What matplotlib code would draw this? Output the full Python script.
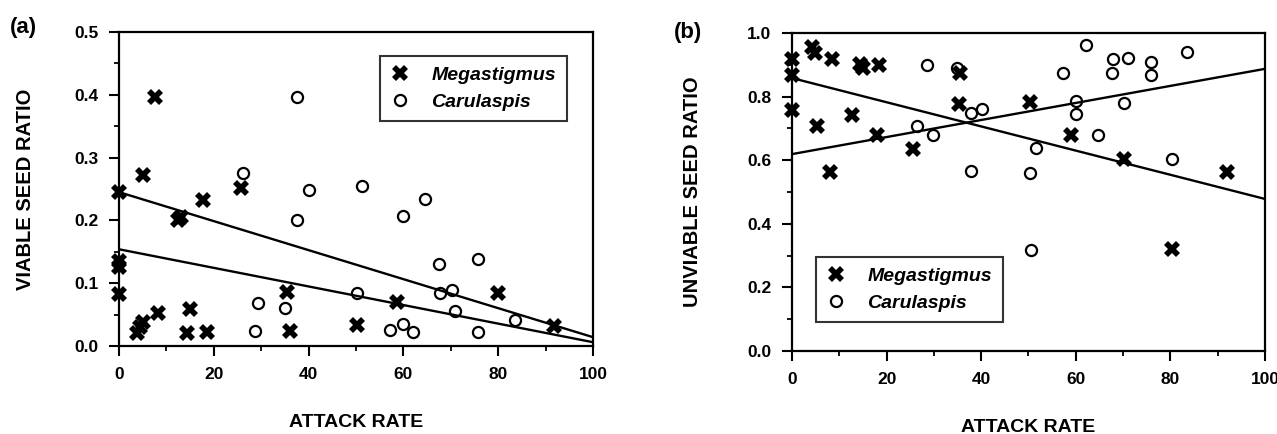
import matplotlib
matplotlib.use("Agg")
import matplotlib.pyplot as plt
from matplotlib.ticker import MultipleLocator, FormatStrFormatter

# (a) viable seed ratio vs attack rate
mega_a_x = [0, 0, 0, 0, 3.8, 4.4, 5, 8.3, 7.6, 5, 12.5, 13, 15, 14.3, 17.7, 18.5,
            25.7, 35.4, 36, 50.2, 58.6, 80, 91.8]
mega_a_y = [0.245, 0.135, 0.125, 0.083, 0.021, 0.03, 0.038, 0.052, 0.397, 0.272,
            0.2, 0.205, 0.059, 0.02, 0.232, 0.022, 0.251, 0.086, 0.024, 0.033,
            0.07, 0.085, 0.032]
caru_a_x = [37.5, 26.2, 40, 51.2, 64.6, 60, 37.5, 29.4, 35, 28.7, 67.4, 75.7, 67.7,
            70.3, 70.9, 50.2, 57.2, 60, 62, 75.7, 83.5]
caru_a_y = [0.397, 0.275, 0.248, 0.255, 0.234, 0.207, 0.2, 0.068, 0.06, 0.024, 0.13,
            0.138, 0.085, 0.089, 0.056, 0.085, 0.025, 0.035, 0.023, 0.023, 0.041]
# fitted lines (value at x=0, value at x=100)
fit_a = [(0.245, 0.014), (0.154, 0.006)]

# (b) unviable seed ratio vs attack rate
mega_b_x = [0, 0, 0, 4.2, 4.9, 8.5, 5.3, 8, 12.7, 14.4, 15, 18.4, 18, 25.6, 35.5,
            35.3, 50.3, 59, 70.2, 92, 80.3]
mega_b_y = [0.918, 0.868, 0.758, 0.956, 0.937, 0.918, 0.708, 0.563, 0.742, 0.903,
            0.89, 0.9, 0.679, 0.635, 0.874, 0.777, 0.783, 0.679, 0.604, 0.563, 0.321]
caru_b_x = [28.5, 26.4, 29.8, 34.9, 37.8, 40.2, 37.8, 51.6, 50.3, 57.3, 62.2, 60, 60,
            64.7, 67.9, 67.7, 71, 70.2, 75.9, 75.9, 83.5, 80.3, 50.5]
caru_b_y = [0.9, 0.708, 0.679, 0.89, 0.748, 0.761, 0.566, 0.638, 0.56, 0.874, 0.962,
            0.786, 0.745, 0.679, 0.918, 0.874, 0.921, 0.78, 0.909, 0.868, 0.94, 0.604,
            0.318]
fit_b = [(0.858, 0.478), (0.619, 0.887)]

FONT = "Liberation Sans"
plt.rcParams['font.family'] = [FONT, 'DejaVu Sans']

fig = plt.figure(figsize=(12.77, 4.34), dpi=100)
ax1 = fig.add_axes([0.0932, 0.2028, 0.3712, 0.7235])
ax2 = fig.add_axes([0.6202, 0.1912, 0.3704, 0.7330])


def draw(ax, mx, my, cx, cy, fits):
    ax.plot(mx, my, linestyle='none', marker='X', markersize=11.5, color='black',
            markeredgewidth=0, label='Megastigmus', clip_on=False, zorder=3)
    ax.plot(cx, cy, linestyle='none', marker='o', markersize=8, markerfacecolor='none',
            markeredgecolor='black', markeredgewidth=1.6, label='Carulaspis',
            clip_on=False, zorder=3)
    for y0, y1 in fits:
        ax.plot([0, 100], [y0, y1], color='black', linewidth=1.7, zorder=2)
    ax.set_xlim(0, 100)
    ax.xaxis.set_major_locator(MultipleLocator(20))
    ax.xaxis.set_minor_locator(MultipleLocator(10))
    ax.tick_params(which='major', direction='out', length=7, width=1.5,
                   labelsize=12.5, pad=8)
    ax.tick_params(which='minor', direction='out', length=3.5, width=1.3)
    for s in ax.spines.values():
        s.set_linewidth(1.6)
    ax.set_xlabel('ATTACK RATE', fontsize=14, fontweight='bold', labelpad=23)


def style_legend(ax, loc, anchor):
    leg = ax.legend(loc=loc, bbox_to_anchor=anchor, frameon=True,
                    fancybox=False, edgecolor='black', handletextpad=1.1,
                    borderpad=0.55, labelspacing=0.45, handlelength=1.0,
                    prop={'family': FONT, 'style': 'italic', 'weight': 'bold', 'size': 14})
    leg.get_frame().set_linewidth(1.5)


draw(ax1, mega_a_x, mega_a_y, caru_a_x, caru_a_y, fit_a)
ax1.set_ylim(0, 0.5)
ax1.yaxis.set_major_locator(MultipleLocator(0.1))
ax1.yaxis.set_minor_locator(MultipleLocator(0.05))
ax1.yaxis.set_major_formatter(FormatStrFormatter('%.1f'))
ax1.set_ylabel('VIABLE SEED RATIO', fontsize=14.5, fontweight='bold', labelpad=28)
style_legend(ax1, 'upper right', (0.965, 0.955))

draw(ax2, mega_b_x, mega_b_y, caru_b_x, caru_b_y, fit_b)
ax2.set_ylim(0, 1.0)
ax2.yaxis.set_major_locator(MultipleLocator(0.2))
ax2.yaxis.set_minor_locator(MultipleLocator(0.1))
ax2.yaxis.set_major_formatter(FormatStrFormatter('%.1f'))
ax2.set_ylabel('UNVIABLE SEED RATIO', fontsize=14.5, fontweight='bold', labelpad=32)
style_legend(ax2, 'lower left', (0.03, 0.06))

for ax in (ax1, ax2):
    for lab in ax.get_xticklabels() + ax.get_yticklabels():
        lab.set_fontweight('bold')

fig.text(0.008, 0.96, '(a)', fontsize=16, fontweight='bold', va='top')
fig.text(0.528, 0.95, '(b)', fontsize=16, fontweight='bold', va='top')

fig.savefig('out.png', dpi=100)
